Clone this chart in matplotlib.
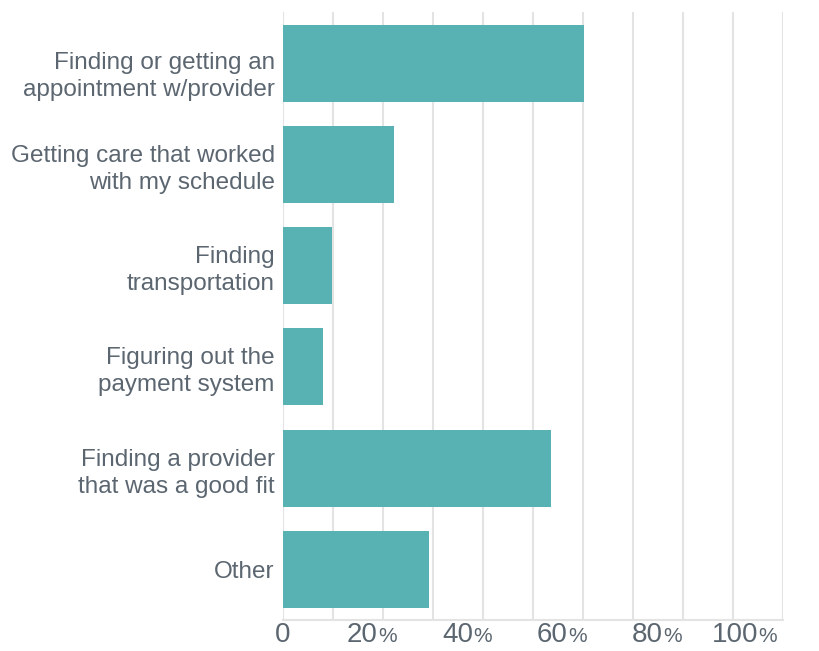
import matplotlib
matplotlib.use("Agg")
import matplotlib.pyplot as plt
from matplotlib.transforms import blended_transform_factory, ScaledTranslation

categories = [
    "Finding or getting an\nappointment w/provider",
    "Getting care that worked\nwith my schedule",
    "Finding\ntransportation",
    "Figuring out the\npayment system",
    "Finding a provider\nthat was a good fit",
    "Other",
]
values = [60.2, 22.2, 9.8, 8.0, 53.6, 29.2]
tick_values = [0, 20, 40, 60, 80, 100]
tick_numbers = ["0", "20", "40", "60", "80", "100"]

plt.rcParams['font.family'] = ['Liberation Sans', 'DejaVu Sans']
text_color = "#5b6670"
bar_color = "#58b1b3"
grid_color = "#e3e3e3"

fig = plt.figure(figsize=(8.19, 6.51), dpi=100)
top_px, bot_px = 12.4, 620
ax = fig.add_axes([283/819, 1 - bot_px/651, 500/819, (bot_px - top_px)/651])

ypos = list(range(len(categories)))
ax.barh(ypos, values, height=0.76, color=bar_color, zorder=3)
ax.set_ylim(len(categories) - 0.5, -0.5)
ax.set_xlim(0, 100)

ax.set_xticks(range(0, 101, 10))
ax.xaxis.grid(True, color=grid_color, linewidth=1.5, zorder=0)
ax.tick_params(axis='x', length=0, labelbottom=False)
ax.set_yticks(ypos)
ax.set_yticklabels(categories, fontsize=17.5, color=text_color, linespacing=1.3)
ax.tick_params(axis='y', length=0, pad=6)
for s in ["top", "right", "left"]:
    ax.spines[s].set_visible(False)
ax.spines["bottom"].set_color(grid_color)
ax.spines["bottom"].set_linewidth(1.5)
ax.spines["bottom"].set_zorder(0)

# the top label sits a little lower in the reference
first = ax.get_yticklabels()[0]
first.set_transform(first.get_transform() + ScaledTranslation(0, -0.08, fig.dpi_scale_trans))

trans = blended_transform_factory(ax.transData, ax.transAxes)
base_y = -(642 - bot_px) / (bot_px - top_px)
for v, num in zip(tick_values, tick_numbers):
    if v == 0:
        ax.text(v, base_y, num, transform=trans, ha='center', va='baseline',
                fontsize=20, color=text_color)
    else:
        x = 0.95 * v
        ax.text(x, base_y, num, transform=trans, ha='right', va='baseline',
                fontsize=20, color=text_color)
        ax.text(x, base_y, "%", transform=trans, ha='left', va='baseline',
                fontsize=15, color=text_color)

fig.savefig("out.png", dpi=100)
